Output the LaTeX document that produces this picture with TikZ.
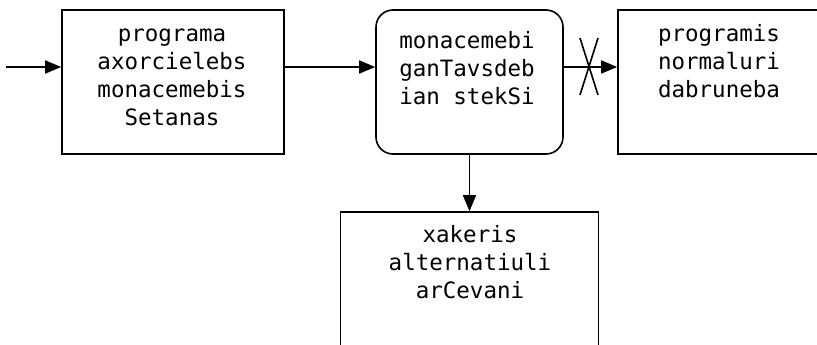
\documentclass[tikz,border=0pt]{standalone}
\usepackage{fontspec}
\newfontfamily\boxfont{DejaVu Sans Mono}
\usetikzlibrary{arrows.meta}
\begin{document}
\begin{tikzpicture}[x=1pt,y=-1pt,
  box/.style={draw,line width=1.6pt,inner sep=0pt},
  rbox/.style={box,rounded corners=17pt},
  label/.style={inner sep=0pt,anchor=north,align=center,font=\boxfont\fontsize{22.5}{28}\selectfont},
  conn/.style={line width=1.6pt,-{Triangle[length=16pt,width=13pt]}},
  cross/.style={line width=1.6pt}]
\clip (0,0) rectangle (817,345);
\fill[white] (0,0) rectangle (817,345);
\coordinate (start) at (6,67);
\node[box,minimum width=222pt,minimum height=144pt] (b1) at (173,82) {};
\node[rbox,minimum width=187pt,minimum height=144pt] (b2) at (469.5,82) {};
\node[box,minimum width=222pt,minimum height=144pt] (b3) at (729,82) {};
\node[box,minimum width=258pt,minimum height=160pt] (b4) at (469.5,292) {};
\node[label] (t1) at (172,21.4) {\strut programa\\axorcielebs\\monacemebis\\Setanas};
\node[label] (t2) at (467,28.4) {\strut monacemebi\\ganTavsdeb\\ian stekSi};
\node[label] (t3) at (719,21.4) {\strut programis\\normaluri\\dabruneba};
\node[label] (t4) at (470,222.4) {\strut xakeris\\alternatiuli\\arCevani};
\draw[conn] (start) -- (b1.west |- start);
\draw[conn] (b1.east |- start) -- (b2.west |- start);
\draw[conn] (b2.east |- start) -- (b3.west |- start);
\draw[conn] (b2.south) -- (b4.north);
\coordinate (x1) at (580,38);
\coordinate (x2) at (598,95);
\coordinate (x3) at (598,38);
\coordinate (x4) at (580,95);
\draw[cross] (x1) -- (x2);
\draw[cross] (x3) -- (x4);
\end{tikzpicture}
\end{document}
